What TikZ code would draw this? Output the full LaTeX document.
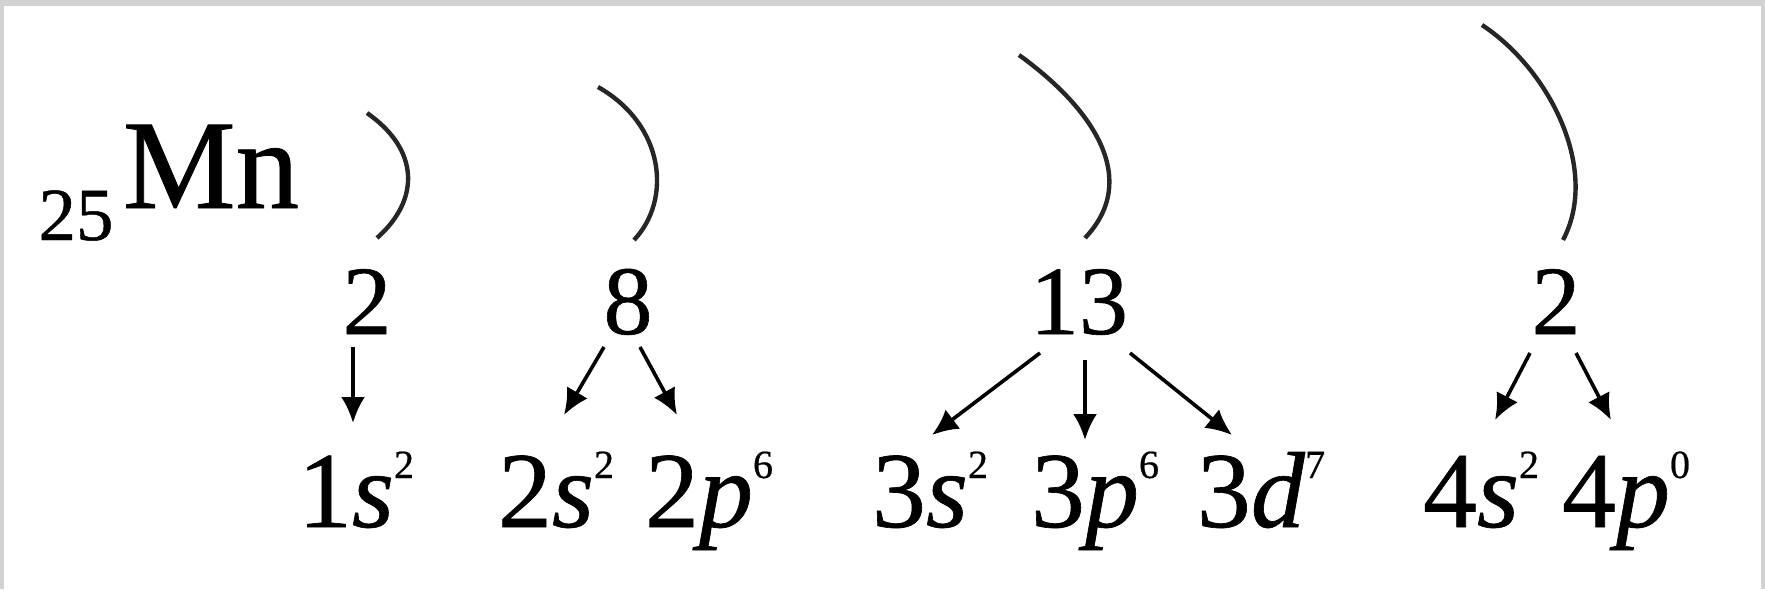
\documentclass[tikz,border=0pt]{standalone}
\usepackage{fontspec}
\setmainfont{Liberation Serif}[FakeBold=0.6,ItalicFeatures={FakeBold=0.6}]
\usetikzlibrary{arrows.meta,calc}
\newcommand{\orbtext}[3]{#1\textit{#2}\raisebox{24.5pt}{\fontsize{20}{20}\selectfont #3}}
\begin{document}
\begin{tikzpicture}[x=0.5pt,y=-0.5pt,
  numlbl/.style={inner sep=0pt,anchor=base,font=\fontsize{49}{49}\selectfont},
  orblbl/.style={inner sep=0pt,anchor=base,font=\fontsize{54}{54}\selectfont},
  shell/.style={line width=2.2pt,draw=black!85},
  arr/.style={line width=1.8pt,-{Latex[length=13pt,width=12pt]}},
  frame/.style={fill=gray!35,draw=none}]
\useasboundingbox (0,0) rectangle (1765,589);
\fill[frame] (0,0) rectangle (1765,6);
\fill[frame] (0,0) rectangle (4,589);
\fill[frame] (1761,0) rectangle (1765,589);
% element
\node[inner sep=0pt,anchor=base,font=\fontsize{37.5}{37.5}\selectfont] (z) at (76,240) {25};
\node[inner sep=0pt,anchor=base,font=\fontsize{63.5}{63.5}\selectfont] (mn) at (211,208) {Mn};
% shells
\draw[shell] (367,113) .. controls (420,150) and (420,200) .. (377,238);
\draw[shell] (598,87) .. controls (665,125) and (672,200) .. (634,240);
\draw[shell] (1019,55) .. controls (1095,110) and (1140,180) .. (1085,238);
\draw[shell] (1482,25) .. controls (1550,70) and (1600,170) .. (1563,240);
% electron counts
\node[numlbl] (n1) at (367,334) {2};
\node[numlbl] (n2) at (628,334) {8};
\node[numlbl] (n3) at (1079,334) {13};
\node[numlbl] (n4) at (1556,334) {2};
% orbitals
\node[orblbl] (o1s) at (356,527) {\orbtext{1}{s}{2}};
\node[orblbl] (o2s) at (556,527) {\orbtext{2}{s}{2}};
\node[orblbl] (o2p) at (709,527) {\orbtext{2}{p}{6}};
\node[orblbl] (o3s) at (930,527) {\orbtext{3}{s}{2}};
\node[orblbl] (o3p) at (1095,527) {\orbtext{3}{p}{6}};
\node[orblbl] (o3d) at (1261,527) {\orbtext{3}{d}{7}};
\node[orblbl] (o4s) at (1481,527) {\orbtext{4}{s}{2}};
\node[orblbl] (o4p) at (1626,527) {\orbtext{4}{p}{0}};
% arrows
\draw[arr] ($(n1.base)+(-14,13)$) -- ($(o1s.base)+(-3,-104)$);
\draw[arr] ($(n2.base)+(-24,13)$) -- ($(o2s.base)+(8,-112)$);
\draw[arr] ($(n2.base)+(12,13)$) -- ($(o2p.base)+(-32,-112)$);
\draw[arr] ($(n3.base)+(-39,19)$) -- ($(o3s.base)+(2,-92)$);
\draw[arr] ($(n3.base)+(6,26)$) -- ($(o3p.base)+(-10,-87)$);
\draw[arr] ($(n3.base)+(51,19)$) -- ($(o3d.base)+(-29,-92)$);
\draw[arr] ($(n4.base)+(-26,19)$) -- ($(o4s.base)+(14,-107)$);
\draw[arr] ($(n4.base)+(20,19)$) -- ($(o4p.base)+(-15,-107)$);
\end{tikzpicture}
\end{document}
